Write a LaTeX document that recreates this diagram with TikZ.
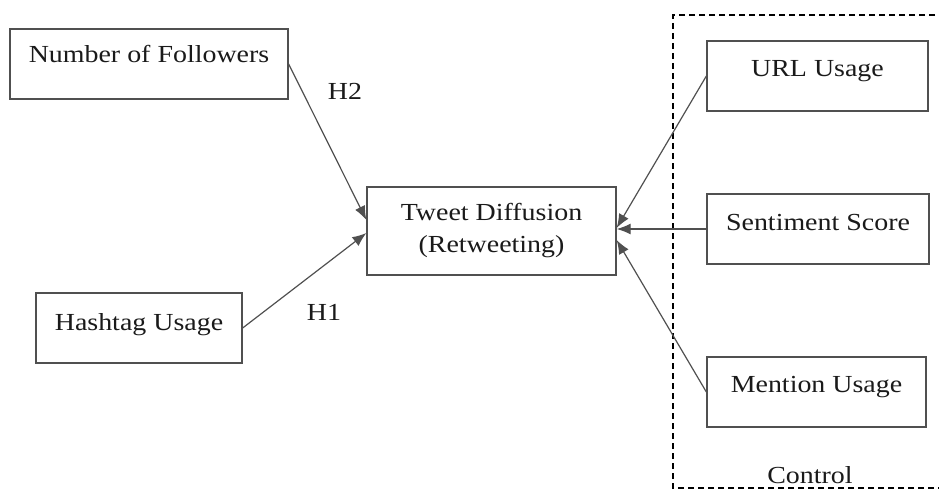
\documentclass[tikz,border=0pt]{standalone}
\usepackage{fontspec}
\setmainfont{Liberation Serif}
\usetikzlibrary{arrows.meta,calc}
\definecolor{ln}{HTML}{505050}
\definecolor{tx}{HTML}{1a1a1a}
\newcommand{\wt}[1]{\scalebox{1.14}[1]{#1}}
\begin{document}
\begin{tikzpicture}[x=1pt,y=-1pt,
  box/.style={draw=ln, line width=1.3pt, rectangle, inner sep=0pt},
  lbl/.style={anchor=base, inner sep=0pt, text=tx, font=\fontsize{24.5}{28}\selectfont},
  conn/.style={draw=ln, line width=1.2pt, -{Latex[length=14pt,width=11pt]}}]
\useasboundingbox (0,0) rectangle (939,492);
% control dashed frame
\draw[line width=1.8pt, dash pattern=on 6pt off 4pt] (945,15) -- (673,15) -- (673,488) -- (945,488);
% boxes
\node[box, minimum width=278pt, minimum height=70pt] (nof) at (149,64) {};
\node[box, minimum width=206pt, minimum height=70pt] (hash) at (139,328) {};
\node[box, minimum width=249pt, minimum height=88pt] (tweet) at (491.5,231) {};
\node[box, minimum width=221pt, minimum height=70pt] (url) at (817.5,76) {};
\node[box, minimum width=222pt, minimum height=70pt] (sent) at (818,229) {};
\node[box, minimum width=219pt, minimum height=70pt] (ment) at (816.5,392) {};
% texts
\node[lbl] (tnof) at (149,63) {\wt{Number of Followers}};
\node[lbl] (thash) at (139,330) {\wt{Hashtag Usage}};
\node[lbl] (ttw1) at (491.5,220) {\wt{Tweet Diffusion}};
\node[lbl] (ttw2) at (491.5,252) {\wt{(Retweeting)}};
\node[lbl] (turl) at (817.5,77) {\wt{URL Usage}};
\node[lbl] (tsent) at (818,230) {\wt{Sentiment Score}};
\node[lbl] (tment) at (816.5,392) {\wt{Mention Usage}};
\node[lbl] (tctl) at (810,483) {\wt{Control}};
\node[lbl] (h2) at (345,100) {\wt{H2}};
\node[lbl] (h1) at (324,320) {\wt{H1}};
% connectors
\coordinate (e1) at ($(tweet.west)+(0,-11)$);
\coordinate (e2) at ($(tweet.west)+(0,2)$);
\coordinate (e3) at ($(tweet.east)+(0,-3)$);
\coordinate (e4) at ($(tweet.east)+(0,-2)$);
\coordinate (e5) at ($(tweet.east)+(0,9)$);
\draw[conn] (nof.east) -- (e1);
\draw[conn] (hash.east) -- (e2);
\draw[conn] (url.west) -- (e3);
\draw[conn] (sent.west) -- (e4);
\draw[conn] (ment.west) -- (e5);
\end{tikzpicture}
\end{document}
